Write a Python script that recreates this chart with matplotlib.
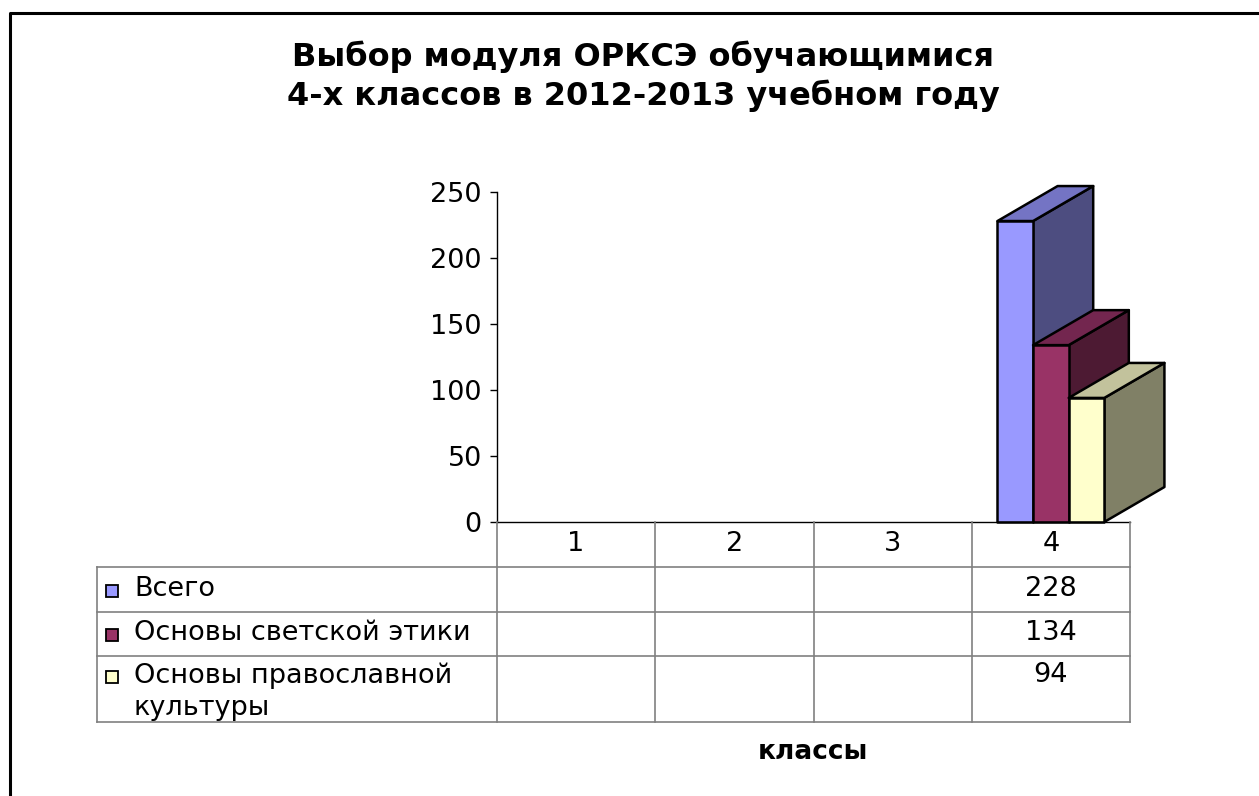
import matplotlib
matplotlib.use("Agg")
import matplotlib.pyplot as plt
from matplotlib.patches import Polygon, Rectangle
from matplotlib.lines import Line2D
from matplotlib.transforms import blended_transform_factory

W, H = 1259, 796

# ── Data ──────────────────────────────────────────────────────
categories = ["1", "2", "3", "4"]
series_names = ["Всего", "Основы светской этики", "Основы православной\nкультуры"]
vsego = [None, None, None, 228]
svetskoy = [None, None, None, 134]
pravoslav = [None, None, None, 94]
series = [vsego, svetskoy, pravoslav]

# front / top / side shades for the 3D look
FRONT = ["#9999FF", "#993366", "#FFFFCC"]
TOP = ["#7474C4", "#73264F", "#C2C29C"]
SIDE = ["#4D4D80", "#4D1A33", "#808066"]
GRID = "#808080"
FS = 19.5

plt.rcParams["font.family"] = ["DejaVu Sans"]


def fx(px):
    return px / W


def fy(py):
    return 1 - py / H


fig = plt.figure(figsize=(W / 100, H / 100), dpi=100)
ax = fig.add_axes([fx(497), fy(522), (1130 - 497) / W, (522 - 192) / H])
ax.set_xlim(0, len(categories))
ax.set_ylim(0, 250)
ax.set_yticks(range(0, 251, 50))
ax.set_xticks([])
ax.spines[["top", "right"]].set_visible(False)
ax.spines["left"].set_linewidth(1.0)
ax.spines["bottom"].set_linewidth(1.0)
ax.tick_params(axis="y", length=5, width=1, direction="out", pad=6, labelsize=FS)
ax.patch.set_alpha(0)

# ── 3D-looking clustered columns ──────────────────────────────
bw = 0.225
dx, dy = 0.38, 26.5
for ci in range(len(categories)):
    for si, vals in enumerate(series):
        v = vals[ci]
        if v is None:
            continue
        x0 = ci + 0.5 - 1.5 * bw + si * bw
        x1 = x0 + bw
        kw = dict(edgecolor="black", linewidth=1.8, clip_on=False, joinstyle="round")
        ax.add_patch(Polygon([(x1, 0), (x1 + dx, dy), (x1 + dx, v + dy), (x1, v)],
                             facecolor=SIDE[si], **kw))
        ax.add_patch(Polygon([(x0, v), (x1, v), (x1 + dx, v + dy), (x0 + dx, v + dy)],
                             facecolor=TOP[si], **kw))
        ax.add_patch(Rectangle((x0, 0), bw, v, facecolor=FRONT[si], **kw))

# ── Data table ────────────────────────────────────────────────
tv = blended_transform_factory(ax.transData, fig.transFigure)
ta = blended_transform_factory(ax.transAxes, fig.transFigure)
left_ax = (97 - 497) / (1130 - 497)

for i in range(len(categories) + 1):
    fig.add_artist(Line2D([i, i], [fy(522), fy(722)], transform=tv,
                          color=GRID, lw=1.2))
for yy in (567, 612, 656, 722):
    fig.add_artist(Line2D([left_ax, 1], [fy(yy), fy(yy)], transform=ta,
                          color=GRID, lw=1.2))
fig.add_artist(Line2D([fx(97), fx(97)], [fy(567), fy(722)],
                      transform=fig.transFigure, color=GRID, lw=1.2))

for ci, c in enumerate(categories):
    fig.text(ci + 0.5, fy(544), c, transform=tv, ha="center", va="center",
             fontsize=FS)

row_y = [589, 633, 675]
label_y = [589, 633, 692]
for si, (name, vals) in enumerate(zip(series_names, series)):
    fig.text(fx(134), fy(label_y[si]), name, ha="left", va="center",
             fontsize=FS, linespacing=1.3)
    fig.add_artist(Rectangle((fx(106), fy(row_y[si] + 8)), 12 / W, 12 / H,
                             transform=fig.transFigure, facecolor=FRONT[si],
                             edgecolor="black", lw=1.3))
    for ci, v in enumerate(vals):
        if v is not None:
            fig.text(ci + 0.5, fy(row_y[si]), str(v), transform=tv,
                     ha="center", va="center", fontsize=FS)

# ── Titles ────────────────────────────────────────────────────
fig.text(fx(643), fy(76), "Выбор модуля ОРКСЭ обучающимися\n4-х классов в 2012-2013 учебном году",
         ha="center", va="center", fontsize=23, fontweight="bold", linespacing=1.25)
fig.text(fx(813), fy(752), "классы", ha="center", va="center",
         fontsize=19, fontweight="bold")

# outer frame (left and top edges visible)
fig.add_artist(Line2D([fx(10), fx(10), 1.0], [0.0, fy(13), fy(13)],
                      transform=fig.transFigure, color="black", lw=2.2))

fig.savefig("out.png", dpi=100, facecolor="white")
